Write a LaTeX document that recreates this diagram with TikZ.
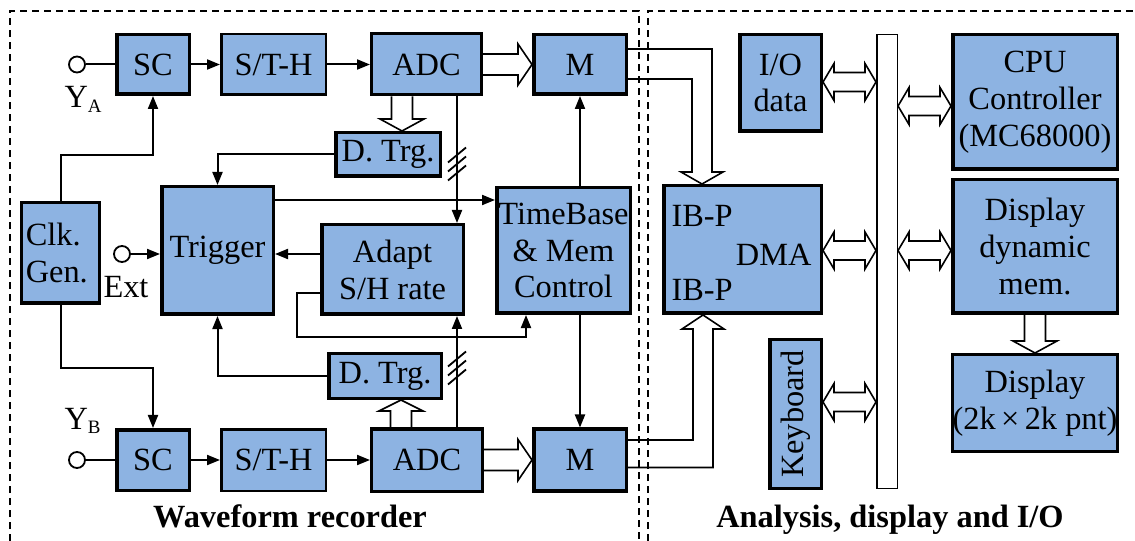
\documentclass[tikz,border=0pt]{standalone}
\usepackage{fontspec}
\setmainfont{Liberation Serif}
\usetikzlibrary{arrows.meta,calc}
\definecolor{boxblue}{RGB}{141,179,226}
% hollow (block) arrows
\newcommand\hR[2]{\draw[hollow] ($(#1)+(0,-10.5)$) -- ($(#2)+(-14,-10.5)$) -- ($(#2)+(-14,-20.5)$) -- (#2) -- ($(#2)+(-14,20.5)$) -- ($(#2)+(-14,10.5)$) -- ($(#1)+(0,10.5)$);}
\newcommand\hD[2]{\draw[hollow] ($(#1)+(-10.5,0)$) -- ($(#2)+(-10.5,-12)$) -- ($(#2)+(-22,-12)$) -- (#2) -- ($(#2)+(22,-12)$) -- ($(#2)+(10.5,-12)$) -- ($(#1)+(10.5,0)$);}
\newcommand\hU[2]{\draw[hollow] ($(#1)+(-10.5,0)$) -- ($(#2)+(-10.5,11)$) -- ($(#2)+(-22,11)$) -- (#2) -- ($(#2)+(22,11)$) -- ($(#2)+(10.5,11)$) -- ($(#1)+(10.5,0)$);}
\newcommand\hB[2]{\draw[hollow] ($(#1)+(11,-9.5)$) -- ($(#2)+(-11,-9.5)$) -- ($(#2)+(-11,-18.5)$) -- (#2) -- ($(#2)+(-11,18.5)$) -- ($(#2)+(-11,9.5)$) -- ($(#1)+(11,9.5)$) -- ($(#1)+(11,18.5)$) -- (#1) -- ($(#1)+(11,-18.5)$) -- cycle;}
\begin{document}
\begin{tikzpicture}[x=1bp,y=-1bp,
  every node/.style={font=\fontsize{32.5}{37}\selectfont},
  box/.style={draw, line width=3.5bp, fill=boxblue, inner sep=0pt, align=center},
  arr/.style={line width=2bp, -{Triangle[length=13bp,width=10bp]}},
  conn/.style={line width=2bp},
  hollow/.style={line width=1.6bp, line join=miter},
  hash/.style={line width=1.8bp},
  term/.style={circle, draw, line width=1.8bp, fill=white, inner sep=0pt, minimum size=16bp},
  frame/.style={line width=1.5bp, dash pattern=on 7bp off 5bp},
  lab/.style={font=\fontsize{32.5}{37}\selectfont\bfseries, anchor=base}]
\useasboundingbox (0,0) rectangle (1135,541);
% frames
\draw[frame] (10,541) -- (10,11) -- (639,11) -- (639,541);
\draw[frame] (648,541) -- (648,11) -- (1135,11);
% ---- waveform recorder ----
\node[box, minimum width=72.5bp, minimum height=59.5bp] (scA) at (153,64.5) {SC};
\node[box, line width=2.5bp, minimum width=104.5bp, minimum height=60.5bp] (sthA) at (273.5,64.5) {S/T-H};
\node[box, line width=3bp, minimum width=110bp, minimum height=61bp] (adcA) at (426.5,64.5) {ADC};
\node[box, minimum width=92.5bp, minimum height=59.5bp] (mA) at (580,64.5) {M};
\node[box, minimum width=104.5bp, minimum height=43.5bp] (dtrgA) at (388,154.5) {D. Trg.};
\node[box, minimum width=133.5bp, minimum height=125.5bp] (tb) at (563.5,250.5) {TimeBase\\\& Mem\\Control};
\node[box, minimum width=111.5bp, minimum height=127.5bp] (trig) at (217.5,250.5) {Trigger};
\node[box, text width=69.5bp, inner xsep=4bp, align=left, minimum height=100.5bp] (clk) at (60.5,253) {Clk.\\Gen.};
\node[box, minimum width=141.5bp, minimum height=89.5bp] (adapt) at (392.5,269.5) {Adapt\\S/H rate};
\node[box, minimum width=112.5bp, minimum height=44.5bp] (dtrgB) at (385,376) {D. Trg.};
\node[box, minimum width=72.5bp, minimum height=60.5bp] (scB) at (153,460) {SC};
\node[box, line width=2.5bp, minimum width=104.5bp, minimum height=61.5bp] (sthB) at (273.5,460) {S/T-H};
\node[box, line width=3bp, minimum width=111bp, minimum height=62bp] (adcB) at (427,460) {ADC};
\node[box, minimum width=92.5bp, minimum height=61.5bp] (mB) at (580,460) {M};
% terminals
\node[term] (inA) at (77,64.5) {};
\node[term] (inB) at (77,460) {};
\node[term] (ext) at (122,254) {};
\node[anchor=base west] (ya) at (61,108) {Y\raisebox{-4.5bp}{\fontsize{19}{20}\selectfont A}};
\node[anchor=base west] (yb) at (61,429) {Y\raisebox{-4.5bp}{\fontsize{19}{20}\selectfont B}};
\node[anchor=base west] (extl) at (100,298) {Ext};
% signal chain
\draw[conn] (inA) -- (scA);
\draw[arr] (scA) -- (sthA);
\draw[arr] (sthA) -- (adcA);
\draw[conn] (inB) -- (scB);
\draw[arr] (scB) -- (sthB);
\draw[arr] (sthB) -- (adcB);
\hR{adcA.east}{mA.west}
\hR{adcB.east}{mB.west}
\coordinate (dA1) at ($(adcA.south west)+(32,0)$);
\coordinate (dA2) at (dA1 |- dtrgA.north);
\hD{dA1}{dA2}
\coordinate (dB1) at ($(adcB.north west)+(31,0)$);
\coordinate (dB2) at (dB1 |- dtrgB.south);
\hU{dB1}{dB2}
% ADC to adapt (buses with hash marks)
\coordinate (vA) at ($(adcA.south west)+(87,0)$);
\draw[arr] (vA) -- (vA |- adapt.north);
\foreach \d in {0,9,18} \draw[hash] ($(vA)+(-9,66+\d)$) -- ++(18,-15);
\coordinate (vB) at ($(adcB.north west)+(87,0)$);
\draw[arr] (vB) -- (vB |- adapt.south);
\foreach \d in {0,9,18} \draw[hash] ($(vB)+(-9,-61+\d)$) -- ++(18,-15);
% clock
\draw[arr] (clk.north) -- ++(0,-46) -| (scA.south);
\draw[arr] (clk.south) -- ++(0,63) -| (scB.north);
% triggers
\draw[arr] (dtrgA.west) -| (trig.north);
\draw[arr] (dtrgB.west) -| (trig.south);
\draw[arr] (ext) -- (ext -| trig.west);
\coordinate (t1) at ($(trig.north east)+(0,15)$);
\draw[arr] (t1) -- (t1 -| tb.west);
\coordinate (a1) at ($(adapt.north west)+(0,31)$);
\draw[arr] (a1) -- (a1 -| trig.east);
\coordinate (a2) at ($(adapt.north west)+(0,70)$);
\coordinate (tbin) at ($(tb.south west)+(31,0)$);
\draw[arr] (a2) -- ++(-23,0) |- ($(tbin)+(0,22)$) -- (tbin);
% timebase to memories
\draw[arr] (mA.south |- tb.north) -- (mA.south);
\draw[arr] (mB.north |- tb.south) -- (mB.north);
% ---- analysis, display, I/O ----
\node[box, minimum width=157.5bp, minimum height=127.5bp] (ibp) at (742.5,249.5) {};
\node[anchor=base west] (ibp1) at ($(ibp.north west)+(6,43)$) {IB-P};
\node[anchor=base east] (dma) at ($(ibp.north east)+(-8,82)$) {DMA};
\node[anchor=base west] (ibp2) at ($(ibp.north west)+(6,117)$) {IB-P};
\node[box, minimum width=81.5bp, minimum height=96.5bp] (io) at (780.5,83) {I/O\\data};
\node[draw, line width=1.5bp, fill=white, inner sep=0pt, minimum width=20.5bp, minimum height=453.5bp] (bus) at (887,261.5) {};
\node[box, minimum width=164.5bp, minimum height=134.5bp] (cpu) at (1035,102) {CPU\\Controller\\(MC68000)};
\node[box, minimum width=164.5bp, minimum height=133.5bp] (ddm) at (1035,246.5) {Display\\dynamic\\mem.};
\node[box, minimum width=164.5bp, minimum height=96.5bp] (disp) at (1035,403) {Display\\(2k\,×\,2k pnt)};
\node[box, minimum width=51.5bp, minimum height=148.5bp] (kbd) at (795.5,414) {\rotatebox{90}{Keyboard}};
% memory outputs to IB-P
\coordinate (pA) at ($(ibp.north west)+(40,0)$);
\draw[hollow] ($(mA.east)+(0,-15.5)$) -| ($(pA)+(10,-12)$) -- ($(pA)+(21,-12)$) -- (pA) -- ($(pA)+(-21,-12)$) -- ($(pA)+(-10,-12)$) |- ($(mA.east)+(0,14.5)$);
\coordinate (pB) at ($(ibp.south west)+(41,0)$);
\draw[hollow] ($(mB.east)+(0,-20)$) -| ($(pB)+(-10,14)$) -- ($(pB)+(-21,14)$) -- (pB) -- ($(pB)+(21,14)$) -- ($(pB)+(10,14)$) |- ($(mB.east)+(0,7.5)$);
% bus connections
\coordinate (d1) at ($(io.east)+(0,-1)$);
\hB{d1}{d1 -| bus.west}
\coordinate (d2) at ($(cpu.west)+(0,4)$);
\hB{d2 -| bus.east}{d2}
\coordinate (d3) at ($(ibp.east)+(0,1)$);
\hB{d3}{d3 -| bus.west}
\hB{d3 -| bus.east}{d3 -| ddm.west}
\coordinate (d5) at ($(kbd.east)+(0,-12)$);
\hB{d5}{d5 -| bus.west}
\hD{ddm.south}{disp.north}
% titles
\node[lab] (t1l) at (290,527) {Waveform recorder};
\node[lab] (t2l) at (890,527) {Analysis, display and I/O};
\end{tikzpicture}
\end{document}
